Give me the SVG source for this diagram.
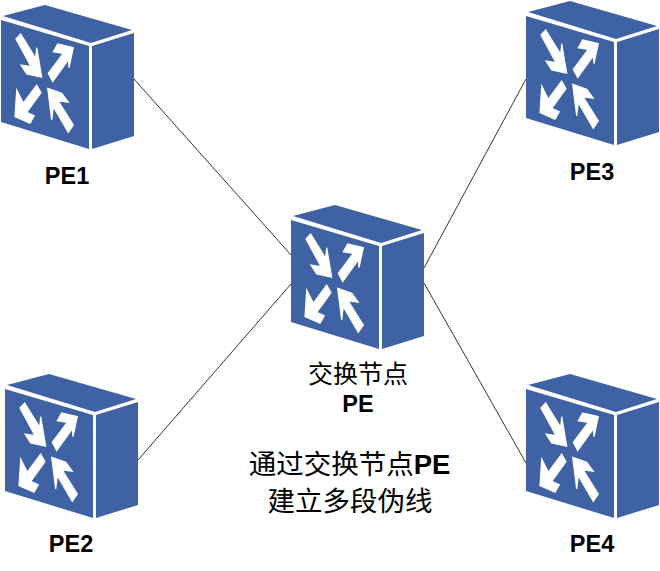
<svg xmlns="http://www.w3.org/2000/svg" xmlns:xlink="http://www.w3.org/1999/xlink" width="660" height="571" viewBox="0 0 660 571">
<style>
.b{fill:#3f62a5}.a{fill:#fff;stroke:#fff;stroke-width:1.2}
.l{stroke:#333;stroke-width:1;fill:none}
text{font-family:"Liberation Sans",Arial,sans-serif;font-weight:bold;font-size:23.5px;fill:#000;text-anchor:middle}
.c{font-family:"Noto Sans CJK SC","Liberation Serif",serif;font-weight:normal}
</style>
<defs>
<g id="pe">
<polygon class="b" points="3,16 45,5 132,30 91,43"/>
<polygon class="b" points="1,20 89,46 89,149 1,122"/>
<polygon class="b" points="92,46 134,33 134,136 92,149"/>
<polygon class="a" points="16,39 20.7,34 35.7,58.3 36.7,47.7 41.7,77.3 26.7,74 21,65 31,66.7"/>
<polygon class="a" points="73.3,47.7 57.7,44 53.3,51.7 63.3,53.3 48.3,73.3 52.7,81.7 68.3,60 69,67.7"/>
<polygon class="a" points="15,116.7 16.7,90 23.3,103 36.7,85 41,92.7 26.7,112.3 34.3,115.7 30,123.3"/>
<polygon class="a" points="47.7,88.3 61.7,93.3 68.3,102.3 58.3,101 73.3,125 68.3,132.3 53.3,106.7 51.7,120"/>
</g>
</defs>
<g id="connectors">
<line class="l" x1="134" y1="79" x2="291" y2="255"/>
<line class="l" x1="138" y1="460" x2="291" y2="284"/>
<line class="l" x1="424" y1="268" x2="526" y2="79"/>
<line class="l" x1="424" y1="283" x2="526" y2="463"/>
</g>
<g id="pe1"><use xlink:href="#pe" href="#pe"/><text x="67" y="184">PE1</text></g>
<g id="pe2"><use xlink:href="#pe" href="#pe" x="4" y="369"/><text x="71" y="552">PE2</text></g>
<g id="pe3"><use xlink:href="#pe" href="#pe" x="525" y="-4"/><text x="592" y="180">PE3</text></g>
<g id="pe4"><use xlink:href="#pe" href="#pe" x="525" y="369"/><text x="592" y="552">PE4</text></g>
<g id="center"><use xlink:href="#pe" href="#pe" x="290" y="200"/><text class="c" x="358" y="383" style="font-size:25px">交换节点</text><text x="358" y="412">PE</text></g>
<g id="note"><text x="349.500" y="474" style="font-size:27.500px"><tspan class="c">通过交换节点</tspan>PE</text><text class="c" x="350" y="511" style="font-size:27.500px">建立多段伪线</text></g>
</svg>
